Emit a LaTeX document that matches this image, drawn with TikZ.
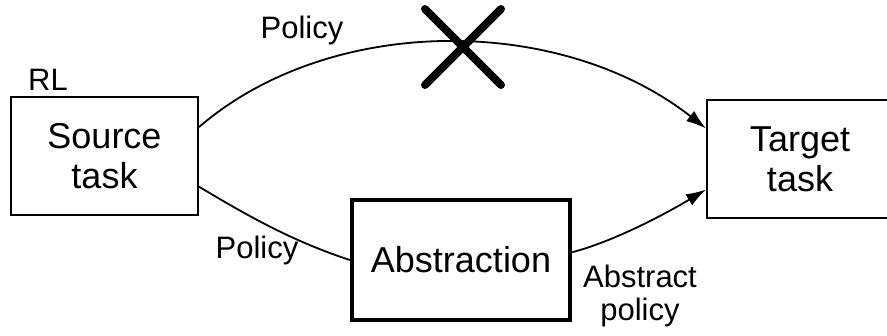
\documentclass[tikz,border=0pt]{standalone}
\usepackage{fontspec}
\setmainfont{Liberation Sans}
\usetikzlibrary{arrows.meta,shapes.misc}
\tikzset{
  task/.style={draw, line width=2pt, align=center, inner sep=0pt,
    font=\fontsize{36}{40}\selectfont},
  lbl/.style={align=center, inner sep=0pt, font=\fontsize{31}{33}\selectfont},
  link/.style={line width=1.8pt},
  tip/.style={-{Latex[length=20pt,width=13pt]}}
}
\begin{document}
\begin{tikzpicture}[x=1pt, y=1pt]
  \useasboundingbox (0,0) rectangle (887,336);
  \node[task, minimum width=187pt, minimum height=118pt] (src) at (104.5,180) {Source\\task};
  \node[task, minimum width=186pt, minimum height=118pt] (tgt) at (800,177) {Target\\task};
  \node[task, line width=4.5pt, minimum width=218pt, minimum height=120pt] (abs) at (461,76) {Abstraction};
  \node[cross out, draw, line width=8pt, line cap=round, minimum size=68pt, inner sep=0pt] (no) at (463,289) {};
  \node[lbl] (rl) at (48,256) {RL};
  \node[lbl] (p1) at (302,306) {Policy};
  \node[lbl] (p2) at (257,86) {Policy};
  \node[lbl] (ap) at (640,40) {Abstract\\policy};
  % links
  \draw[link, tip] (src.17) .. controls (330,322) and (560,322) .. (tgt.162);
  \draw[link] (src.-18) .. controls (248,120) and (292,95) .. (abs.west);
  \draw[link, tip] (abs.4) .. controls (615,95) and (667,123) .. (tgt.-162);
\end{tikzpicture}
\end{document}
